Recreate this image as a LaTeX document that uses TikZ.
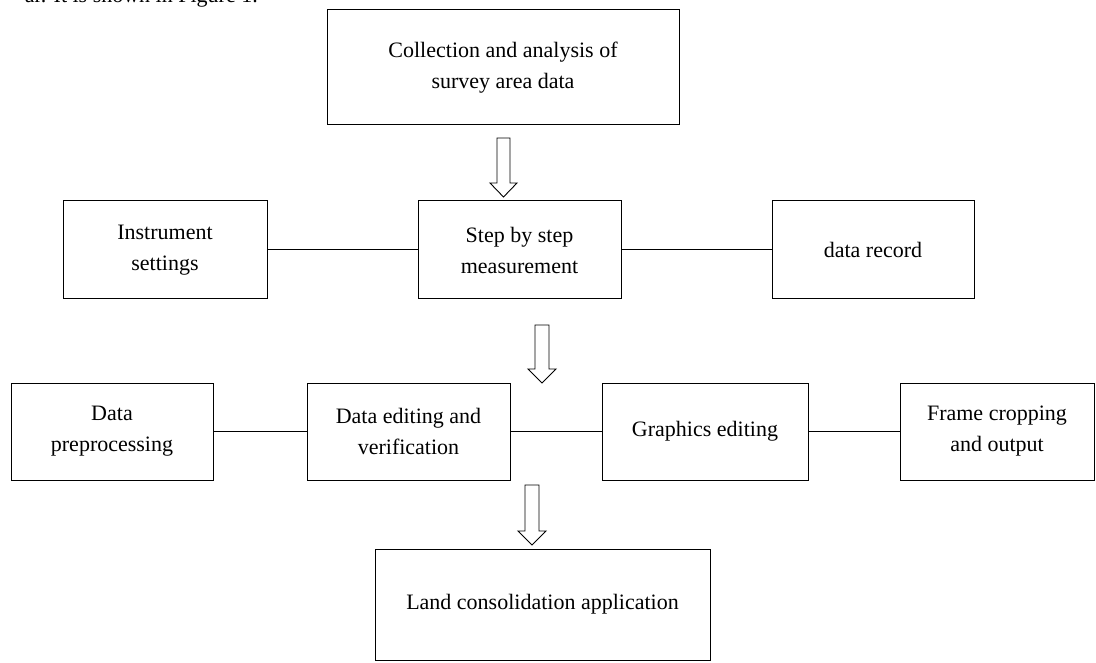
\documentclass[tikz,border=0pt]{standalone}
\usepackage{fontspec}
\setmainfont{Liberation Serif}
\begin{document}
\begin{tikzpicture}[x=1pt,y=-1pt,
  box/.style={draw,line width=1pt,rectangle,align=center,inner sep=0pt,font=\fontsize{22}{31}\selectfont},
  link/.style={line width=1pt},
  hollow/.style={draw,line width=0.9pt,fill=white,line join=miter}]
\useasboundingbox (0,0) rectangle (1096,663);
\begin{scope}
\clip (0,0) rectangle (1096,663);
\node[anchor=base east,inner sep=0pt,font=\fontsize{22}{26}\selectfont] (intro) at (258,3) {ar. It is shown in Figure 1.};
\end{scope}
\node[box,minimum width=352pt,minimum height=115pt] (top) at (503,67.5) {Collection and analysis of\\survey area data};
\node[box,minimum width=204pt,minimum height=98pt] (inst) at (165,250) {Instrument\\settings};
\node[box,minimum width=203pt,minimum height=98pt] (step) at (519.5,250) {Step by step\\measurement};
\node[box,minimum width=202pt,minimum height=98pt] (rec) at (873,250) {data record};
\node[box,minimum width=202pt,minimum height=97pt] (pre) at (112,431.5) {Data\\preprocessing};
\node[box,minimum width=203pt,minimum height=97pt] (edit) at (408.5,431.5) {Data editing and\\verification};
\node[box,minimum width=206pt,minimum height=97pt] (graph) at (705,431.5) {Graphics editing};
\node[box,minimum width=194pt,minimum height=97pt] (frame) at (997,431.5) {Frame cropping\\and output};
\node[box,minimum width=335pt,minimum height=111pt] (land) at (542.5,604.5) {Land consolidation application};
\draw[link] (inst) -- (step);
\draw[link] (step) -- (rec);
\draw[link] (pre) -- (edit);
\draw[link] (edit) -- (graph);
\draw[link] (graph) -- (frame);
% hollow arrows
\draw[hollow] (497,138) -- (510,138) -- (510,183) -- (517,183) -- (503.5,197) -- (490,183) -- (497,183) -- cycle;
\draw[hollow] (535,325) -- (549,325) -- (549,369) -- (556,369) -- (542,383) -- (528,369) -- (535,369) -- cycle;
\draw[hollow] (525,485) -- (539,485) -- (539,531) -- (546,531) -- (532,545) -- (518,531) -- (525,531) -- cycle;
\end{tikzpicture}
\end{document}
